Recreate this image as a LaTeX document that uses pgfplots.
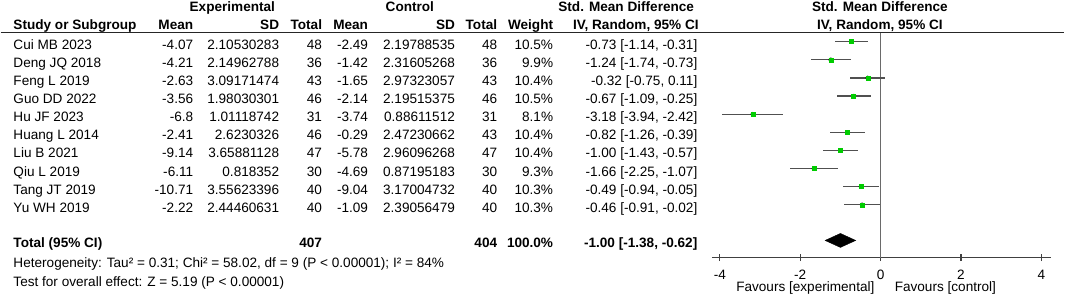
\documentclass[border=0pt]{standalone}
\usepackage{fontspec}
\setmainfont{Liberation Sans}
\usepackage{pgfplots}
\usepackage{pgfplotstable}
\pgfplotsset{compat=1.18}
\definecolor{sqgreen}{HTML}{00CC00}
\definecolor{cigray}{HTML}{505050}
\definecolor{axgray}{HTML}{404040}
\definecolor{zgray}{HTML}{6A6A6A}

% y = vertical row position (px from top), smd, lower, upper, weight
\pgfplotstableread{
y smd lo hi w
41.70 -0.73 -1.14 -0.31 10.5
59.85 -1.24 -1.74 -0.73 9.9
78.00 -0.32 -0.75 0.11 10.4
96.15 -0.67 -1.09 -0.25 10.5
114.30 -3.18 -3.94 -2.42 8.1
132.45 -0.82 -1.26 -0.39 10.4
150.60 -1.00 -1.43 -0.57 10.4
168.75 -1.66 -2.25 -1.07 9.3
186.90 -0.49 -0.94 -0.05 10.3
205.05 -0.46 -0.91 -0.02 10.3
}\studies

\newcommand{\fs}{\fontsize{13.6}{16}\selectfont}
\begin{document}
\begin{tikzpicture}[every node/.style={font=\fs, inner sep=0pt, text=black}]
\path (0pt,0pt) rectangle (1065pt,-298pt);
\begin{axis}[
  at={(712pt,-258pt)}, anchor=south west,
  scale only axis, width=340pt, height=225pt,
  xmin=-4.2, xmax=4.25, ymin=-258, ymax=-33,
  axis x line=bottom, axis y line=none,
  x axis line style={-, draw=axgray, line width=1.3pt},
  xtick={-4,-2,0,2,4}, xticklabels={-4,-2,0,2,4},
  xtick align=center, major tick length=7pt,
  x tick style={draw=axgray, line width=1.3pt},
  xticklabel style={anchor=base, yshift=-18.5pt, font=\fs, text=black},
  clip=false]
  \draw[zgray, line width=1.5pt] (axis cs:0,-33) -- (axis cs:0,-258);
  % confidence intervals
  \addplot[only marks, mark=none, forget plot,
    error bars/.cd, x dir=both, x explicit, error mark=none,
    error bar style={cigray, line width=1.3pt}]
    table[x=smd, y expr=-\thisrow{y},
          x error plus expr=\thisrow{hi}-\thisrow{smd},
          x error minus expr=\thisrow{smd}-\thisrow{lo}] {\studies};
  % squares sized by weight
  \addplot[scatter, only marks, mark=square*,
    visualization depends on={2.45*sqrt(\thisrow{w}/10.5) \as \ms},
    scatter/@pre marker code/.append style={/tikz/mark size=\ms},
    scatter/use mapped color={draw=sqgreen, fill=sqgreen}]
    table[x=smd, y expr=-\thisrow{y}] {\studies};
  % pooled diamond
  \addplot[fill=black, draw=black] coordinates {(-1.38,-240.7) (-1.00,-233.7) (-0.62,-240.7) (-1.00,-247.7)} -- cycle;
\end{axis}

% header line
\draw[line width=1.2pt, black!85] (0pt,-32.8pt) -- (1065pt,-32.8pt);

% headers
\node[anchor=base, font=\fs\bfseries] at (232pt,-11.5pt) {Experimental};
\node[anchor=base, font=\fs\bfseries] at (409.7pt,-11.5pt) {Control};
\node[anchor=base, font=\fs\bfseries] at (626.3pt,-11.5pt) {Std. Mean Difference};
\node[anchor=base, font=\fs\bfseries] at (880.3pt,-11.5pt) {Std. Mean Difference};
\node[anchor=base west, font=\fs\bfseries] at (12.7pt,-30pt) {Study or Subgroup};
\node[anchor=base east, font=\fs\bfseries] at (193pt,-30pt) {Mean};
\node[anchor=base east, font=\fs\bfseries] at (279pt,-30pt) {SD};
\node[anchor=base east, font=\fs\bfseries] at (322pt,-30pt) {Total};
\node[anchor=base east, font=\fs\bfseries] at (368pt,-30pt) {Mean};
\node[anchor=base east, font=\fs\bfseries] at (455pt,-30pt) {SD};
\node[anchor=base east, font=\fs\bfseries] at (497.3pt,-30pt) {Total};
\node[anchor=base east, font=\fs\bfseries] at (553.3pt,-30pt) {Weight};
\node[anchor=base east, font=\fs\bfseries] at (699pt,-30pt) {IV, Random, 95\% CI};
\node[anchor=base, font=\fs\bfseries] at (880.3pt,-30pt) {IV, Random, 95\% CI};

% study rows
\foreach \n/\a/\b/\c/\d/\e/\f/\w/\ci [count=\i from 0] in {
  Cui MB 2023/-4.07/2.10530283/48/-2.49/2.19788535/48/10.5\%/{-0.73 [-1.14, -0.31]},
  Deng JQ 2018/-4.21/2.14962788/36/-1.42/2.31605268/36/9.9\%/{-1.24 [-1.74, -0.73]},
  Feng L 2019/-2.63/3.09171474/43/-1.65/2.97323057/43/10.4\%/{-0.32 [-0.75, 0.11]},
  Guo DD 2022/-3.56/1.98030301/46/-2.14/2.19515375/46/10.5\%/{-0.67 [-1.09, -0.25]},
  Hu JF 2023/-6.8/1.01118742/31/-3.74/0.88611512/31/8.1\%/{-3.18 [-3.94, -2.42]},
  Huang L 2014/-2.41/2.6230326/46/-0.29/2.47230662/43/10.4\%/{-0.82 [-1.26, -0.39]},
  Liu B 2021/-9.14/3.65881128/47/-5.78/2.96096268/47/10.4\%/{-1.00 [-1.43, -0.57]},
  Qiu L 2019/-6.11/0.818352/30/-4.69/0.87195183/30/9.3\%/{-1.66 [-2.25, -1.07]},
  Tang JT 2019/-10.71/3.55623396/40/-9.04/3.17004732/40/10.3\%/{-0.49 [-0.94, -0.05]},
  Yu WH 2019/-2.22/2.44460631/40/-1.09/2.39056479/40/10.3\%/{-0.46 [-0.91, -0.02]}} {
  \pgfmathsetmacro\yb{-(49.2+18.15*\i)}
  \node[anchor=base west] at (12.7pt,\yb pt) {\n};
  \node[anchor=base east] at (193pt,\yb pt) {\a};
  \node[anchor=base east] at (279pt,\yb pt) {\b};
  \node[anchor=base east] at (322pt,\yb pt) {\c};
  \node[anchor=base east] at (368pt,\yb pt) {\d};
  \node[anchor=base east] at (455pt,\yb pt) {\e};
  \node[anchor=base east] at (497.3pt,\yb pt) {\f};
  \node[anchor=base east] at (553.3pt,\yb pt) {\w};
  \node[anchor=base east] at (697.7pt,\yb pt) {\ci};
}

% total row
\node[anchor=base west, font=\fs\bfseries] at (12.7pt,-248.2pt) {Total (95\% CI)};
\node[anchor=base east, font=\fs\bfseries] at (322pt,-248.2pt) {407};
\node[anchor=base east, font=\fs\bfseries] at (497.3pt,-248.2pt) {404};
\node[anchor=base east, font=\fs\bfseries] at (553.3pt,-248.2pt) {100.0\%};
\node[anchor=base east, font=\fs\bfseries] at (697.7pt,-248.2pt) {-1.00 [-1.38, -0.62]};
\node[anchor=base west] at (12.7pt,-268.2pt) {Heterogeneity: Tau² = 0.31; Chi² = 58.02, df = 9 (P < 0.00001); I² = 84\%};
\node[anchor=base west] at (12.7pt,-286.5pt) {Test for overall effect: Z = 5.19 (P < 0.00001)};

% favours labels
\node[anchor=base east] at (875pt,-291.5pt) {Favours [experimental]};
\node[anchor=base west] at (895pt,-291.5pt) {Favours [control]};
\end{tikzpicture}
\end{document}
